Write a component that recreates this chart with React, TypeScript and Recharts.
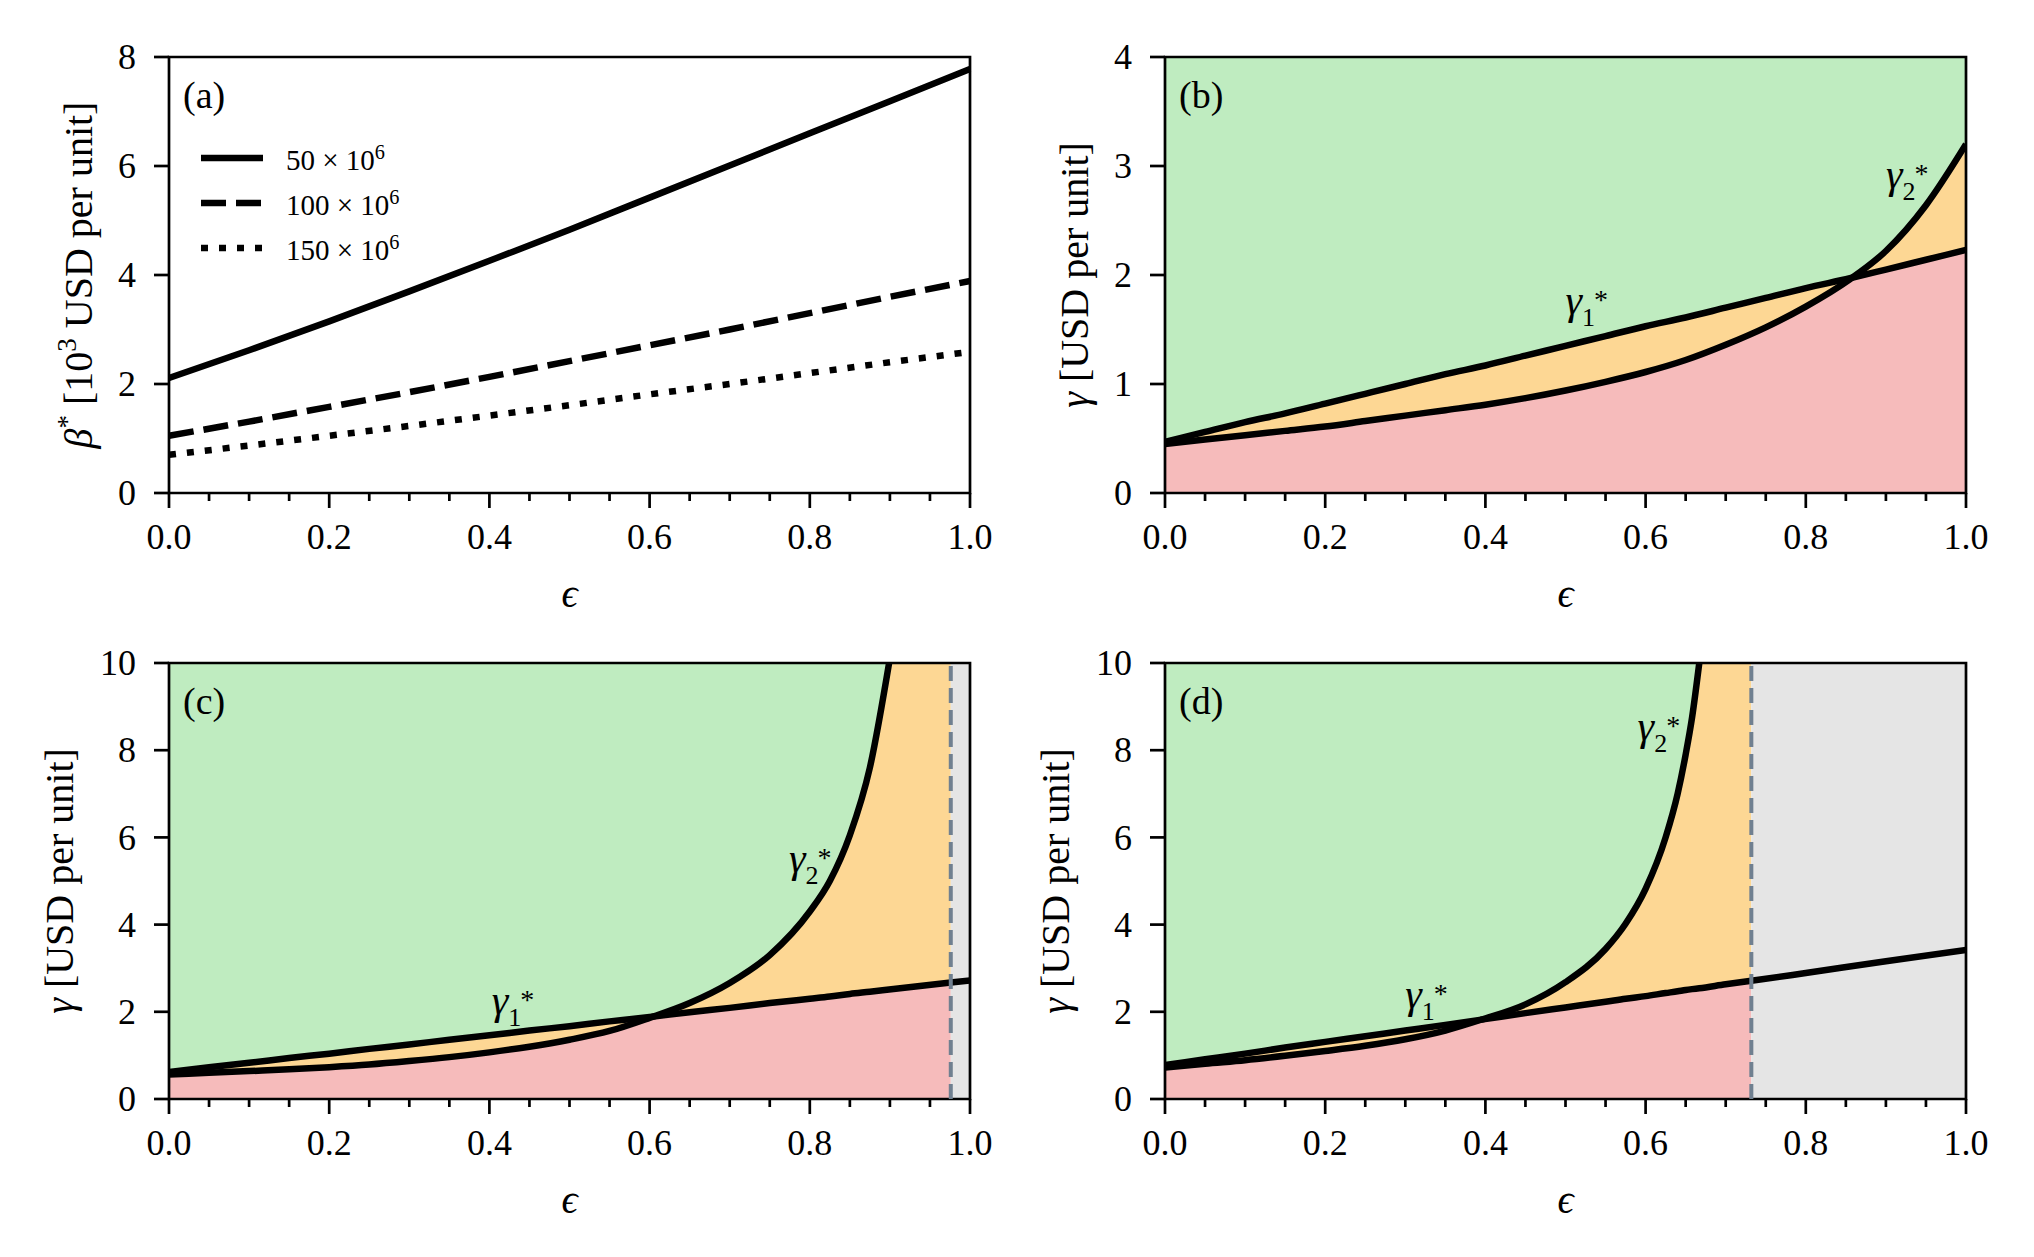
import React from 'react';
import {
  ComposedChart,
  Area,
  Line,
  XAxis,
  YAxis,
  ReferenceArea,
  ReferenceLine,
  ReferenceDot,
  Legend,
} from 'recharts';

const FONT = '"Liberation Serif", "DejaVu Serif", serif';

const GREEN = '#bfecc0';
const ORANGE = '#fdd794';
const RED = '#f6bbbb';
const GREY = '#e5e5e5';
const SLATE = '#708090';

// x axis: minor ticks every 0.05, labelled majors every 0.2
const X_TICKS = [0, 0.05, 0.1, 0.15, 0.2, 0.25, 0.3, 0.35, 0.4, 0.45, 0.5, 0.55, 0.6, 0.65, 0.7, 0.75, 0.8, 0.85, 0.9, 0.95, 1.0];
const X_MAJOR = [0, 0.2, 0.4, 0.6, 0.8, 1.0];

// (a) beta* for three volumes
const EPS_A = [0, 0.1, 0.2, 0.3, 0.4, 0.5, 0.6, 0.7, 0.8, 0.9, 1.0];
const BETA_50 = [2.11, 2.62, 3.15, 3.7, 4.26, 4.83, 5.42, 6.01, 6.6, 7.19, 7.78];
const BETA_100 = [1.05, 1.31, 1.58, 1.85, 2.13, 2.42, 2.71, 3.0, 3.3, 3.6, 3.89];
const BETA_150 = [0.7, 0.87, 1.05, 1.23, 1.42, 1.61, 1.81, 2.0, 2.2, 2.4, 2.59];
const Y_TICKS_A = [0, 2, 4, 6, 8];
const LEGEND_LABELS = ['50', '100', '150'];
const LEGEND_DASH = ['', '25 10', '7 11'];

// (b)
const EPS_B = [0, 0.05, 0.1, 0.15, 0.2, 0.25, 0.3, 0.35, 0.4, 0.45, 0.5, 0.55, 0.6, 0.65, 0.7, 0.75, 0.8, 0.855, 0.9, 0.95, 1.0];
const G1_B = [0.47, 0.56, 0.65, 0.73, 0.82, 0.91, 1.0, 1.09, 1.17, 1.26, 1.35, 1.44, 1.53, 1.61, 1.7, 1.79, 1.88, 1.97, 2.05, 2.14, 2.23];
const G2_B = [0.45, 0.49, 0.53, 0.57, 0.61, 0.66, 0.71, 0.76, 0.81, 0.87, 0.94, 1.02, 1.11, 1.22, 1.36, 1.52, 1.71, 1.96, 2.22, 2.64, 3.2];
const Y_TICKS_B = [0, 1, 2, 3, 4];

// (c)
const EPS_C = [0, 0.05, 0.1, 0.15, 0.2, 0.25, 0.3, 0.35, 0.4, 0.45, 0.5, 0.55, 0.6, 0.65, 0.7, 0.75, 0.8, 0.825, 0.85, 0.875, 0.899, 0.976, 1.0];
const G1_C = [0.62, 0.73, 0.83, 0.94, 1.04, 1.15, 1.25, 1.36, 1.46, 1.57, 1.67, 1.78, 1.88, 1.99, 2.09, 2.2, 2.3, 2.35, 2.41, 2.46, 2.51, 2.67, 2.72];
const G2_C = [0.56, 0.6, 0.64, 0.68, 0.73, 0.79, 0.87, 0.96, 1.07, 1.2, 1.36, 1.56, 1.86, 2.2, 2.66, 3.3, 4.3, 5.0, 6.05, 7.6, 10.0, null, null];
const CUT_C = 0.976;

// (d)
const EPS_D = [0, 0.05, 0.1, 0.15, 0.2, 0.25, 0.3, 0.35, 0.395, 0.45, 0.5, 0.55, 0.575, 0.6, 0.625, 0.64, 0.65, 0.658, 0.667, 0.7, 0.732, 0.8, 0.9, 1.0];
const G1_D = [0.78, 0.91, 1.04, 1.18, 1.31, 1.44, 1.57, 1.7, 1.82, 1.97, 2.1, 2.23, 2.3, 2.36, 2.43, 2.47, 2.5, 2.52, 2.54, 2.63, 2.71, 2.89, 3.16, 3.42];
const G2_D = [0.72, 0.81, 0.89, 0.99, 1.1, 1.22, 1.37, 1.57, 1.82, 2.17, 2.68, 3.44, 4.02, 4.82, 6.0, 7.0, 7.9, 8.75, 10.0, null, null, null, null, null];
const CUT_D = 0.732;
const Y_TICKS_CD = [0, 2, 4, 6, 8, 10];

// gamma* annotation anchors (text start, baseline)
const LABELS_B = [{ e: 0.5, g: 1.64, sub: '1' }, { e: 0.9, g: 2.8, sub: '2' }];
const LABELS_C = [{ e: 0.403, g: 1.95, sub: '1' }, { e: 0.774, g: 5.2, sub: '2' }];
const LABELS_D = [{ e: 0.3, g: 2.09, sub: '1' }, { e: 0.59, g: 8.23, sub: '2' }];

type Row = Record<string, any>;

function regionRows(eps: number[], g1: number[], g2: (number | null)[], top: number, cut: number): Row[] {
  return eps.map((e, i) => {
    const a = g1[i];
    const b = g2[i];
    const inside = e <= cut + 1e-9;
    const lo = b == null ? a : Math.min(a, b);
    const hi = b == null ? null : Math.min(Math.max(a, b), top);
    return {
      eps: e,
      g1: a,
      g2: b,
      orange: inside ? [lo, top] : null,
      red: inside ? [0, lo] : null,
      green: inside && hi != null ? [hi, top] : null,
    };
  });
}

const XTick = (props: any) => {
  const { x, y, payload } = props;
  const v = payload.value;
  const major = X_MAJOR.some((m) => Math.abs(m - v) < 1e-6);
  return (
    <g>
      <line x1={x} x2={x} y1={y} y2={y + (major ? 15 : 8)} stroke="#000" strokeWidth={2.7} />
      {major && (
        <text x={x} y={y + 56} textAnchor="middle" fontFamily={FONT} fontSize={36} fill="#000">
          {v.toFixed(1)}
        </text>
      )}
    </g>
  );
};

const YTick = (props: any) => {
  const { x, y, payload } = props;
  return (
    <g>
      <line x1={x - 15} x2={x} y1={y} y2={y} stroke="#000" strokeWidth={2.7} />
      <text x={x - 33} y={y} dy="0.34em" textAnchor="end" fontFamily={FONT} fontSize={36} fill="#000">
        {payload.value}
      </text>
    </g>
  );
};

const xTitle = (props: any) => {
  const vb = props.viewBox;
  return (
    <text x={vb.x + vb.width / 2} y={vb.y + 114} textAnchor="middle" fontFamily={FONT} fontSize={40} fill="#000">
      <tspan fontStyle="italic">ϵ</tspan>
    </text>
  );
};

const yTitle = (offset: number, kind: 'beta' | 'gamma') => (props: any) => {
  const vb = props.viewBox;
  const x = vb.x + vb.width - offset;
  const y = vb.y + vb.height / 2;
  return (
    <text x={x} y={y} transform={`rotate(-90 ${x} ${y})`} textAnchor="middle" fontFamily={FONT} fontSize={40} fill="#000">
      {kind === 'beta' ? (
        <>
          <tspan fontStyle="italic">β</tspan>
          <tspan fontSize={27} dy={-16}>*</tspan>
          <tspan dy={16}> [10</tspan>
          <tspan fontSize={27} dy={-16}>3</tspan>
          <tspan dy={16}> USD per unit]</tspan>
        </>
      ) : (
        <>
          <tspan fontStyle="italic">γ</tspan>
          <tspan> [USD per unit]</tspan>
        </>
      )}
    </text>
  );
};

const letterShape = (letter: string) => (p: any) => (
  <text x={p.cx + 14} y={p.cy + 51} fontFamily={FONT} fontSize={38} fill="#000">
    ({letter})
  </text>
);

const gammaShape = (sub: string) => (p: any) => (
  <text x={p.cx} y={p.cy} fontFamily={FONT} fontSize={42} fill="#000">
    <tspan fontStyle="italic">γ</tspan>
    <tspan fontSize={26} dy={12}>{sub}</tspan>
    <tspan fontSize={28} dx={-1} dy={-17}>*</tspan>
  </text>
);

const Frame = ({ top }: { top: number }) => (
  <ReferenceArea x1={0} x2={1} y1={0} y2={top} fill="none" stroke="#000" strokeWidth={2.7} ifOverflow="visible" />
);

const LegendBox = () => (
  <div style={{ fontFamily: FONT, fontSize: 29, color: '#000' }}>
    {LEGEND_LABELS.map((lab, i) => (
      <div key={lab} style={{ display: 'flex', alignItems: 'center', height: 45 }}>
        <svg width={62} height={12} style={{ display: 'block' }}>
          <line x1={0} x2={62} y1={6} y2={6} stroke="#000" strokeWidth={6.5} strokeDasharray={LEGEND_DASH[i] || undefined} />
        </svg>
        <span style={{ marginLeft: 23, paddingTop: 4, whiteSpace: 'nowrap' }}>
          {lab} × 10<sup style={{ fontSize: '0.7em', verticalAlign: '0.55em' }}>6</sup>
        </span>
      </div>
    ))}
  </div>
);

const CW = 1017;
const CH = 628;

function PanelA() {
  const rows = EPS_A.map((e, i) => ({ eps: e, s50: BETA_50[i], s100: BETA_100[i], s150: BETA_150[i] }));
  return (
    <ComposedChart width={CW} height={CH} data={rows} margin={{ top: 57, right: 47, bottom: 105, left: 109 }}>
      <XAxis type="number" dataKey="eps" domain={[0, 1]} ticks={X_TICKS} interval={0} tick={XTick}
        tickLine={false} axisLine={false} tickSize={0} tickMargin={0} height={30} label={xTitle} />
      <YAxis type="number" domain={[0, 8]} ticks={Y_TICKS_A} interval={0} tick={YTick}
        tickLine={false} axisLine={false} tickSize={0} tickMargin={0} width={60} allowDataOverflow label={yTitle(77, 'beta')} />
      <Line type="linear" dataKey="s50" name="50" stroke="#000" strokeWidth={6.5} dot={false} activeDot={false} isAnimationActive={false} />
      <Line type="linear" dataKey="s100" name="100" stroke="#000" strokeWidth={6.5} strokeDasharray={LEGEND_DASH[1]} dot={false} activeDot={false} isAnimationActive={false} />
      <Line type="linear" dataKey="s150" name="150" stroke="#000" strokeWidth={6.5} strokeDasharray={LEGEND_DASH[2]} dot={false} activeDot={false} isAnimationActive={false} />
      <Frame top={8} />
      <ReferenceDot x={0} y={8} r={0} ifOverflow="visible" shape={letterShape('a')} />
      <Legend layout="vertical" align="center" verticalAlign="middle" content={LegendBox}
        wrapperStyle={{ position: 'absolute', left: 201, top: 135, width: 'auto', height: 'auto' }} />
    </ComposedChart>
  );
}

interface RegionProps {
  rows: Row[];
  top: number;
  yTicks: number[];
  letter: string;
  cut: number | null;
  labels: { e: number; g: number; sub: string }[];
  margin: { top: number; right: number; bottom: number; left: number };
  yOffset: number;
}

function RegionPanel({ rows, top, yTicks, letter, cut, labels, margin, yOffset }: RegionProps) {
  return (
    <ComposedChart width={CW} height={CH} data={rows} margin={margin}>
      <XAxis type="number" dataKey="eps" domain={[0, 1]} ticks={X_TICKS} interval={0} tick={XTick}
        tickLine={false} axisLine={false} tickSize={0} tickMargin={0} height={30} allowDataOverflow label={xTitle} />
      <YAxis type="number" domain={[0, top]} ticks={yTicks} interval={0} tick={YTick}
        tickLine={false} axisLine={false} tickSize={0} tickMargin={0} width={60} allowDataOverflow label={yTitle(yOffset, 'gamma')} />
      <Area type="monotone" dataKey="orange" stroke="none" fill={ORANGE} fillOpacity={1} dot={false} activeDot={false} isAnimationActive={false} />
      <Area type="monotone" dataKey="red" stroke="none" fill={RED} fillOpacity={1} dot={false} activeDot={false} isAnimationActive={false} />
      <Area type="monotone" dataKey="green" stroke="none" fill={GREEN} fillOpacity={1} dot={false} activeDot={false} isAnimationActive={false} />
      {cut != null && <ReferenceArea x1={cut} x2={1} y1={0} y2={top} fill={GREY} fillOpacity={1} stroke="none" />}
      <Line type="monotone" dataKey="g1" stroke="#000" strokeWidth={6.5} dot={false} activeDot={false} isAnimationActive={false} />
      <Line type="monotone" dataKey="g2" stroke="#000" strokeWidth={6.5} dot={false} activeDot={false} isAnimationActive={false} />
      {cut != null && <ReferenceLine x={cut} stroke={SLATE} strokeWidth={4} strokeDasharray="15 7" />}
      <Frame top={top} />
      <ReferenceDot x={0} y={top} r={0} ifOverflow="visible" shape={letterShape(letter)} />
      {labels.map((l) => (
        <ReferenceDot key={l.sub} x={l.e} y={l.g} r={0} ifOverflow="visible" shape={gammaShape(l.sub)} />
      ))}
    </ComposedChart>
  );
}

export default function App() {
  const rowsB = regionRows(EPS_B, G1_B, G2_B, 4, 1.0);
  const rowsC = regionRows(EPS_C, G1_C, G2_C, 10, CUT_C);
  const rowsD = regionRows(EPS_D, G1_D, G2_D, 10, CUT_D);
  const cell = (left: number, top: number): React.CSSProperties => ({ position: 'absolute', left, top, width: CW, height: CH });
  return (
    <div style={{ position: 'absolute', left: 0, top: 0, width: 2034, height: 1257, background: '#fff', overflow: 'hidden' }}>
      <div style={cell(0, 0)}>
        <PanelA />
      </div>
      <div style={cell(1017, 0)}>
        <RegionPanel rows={rowsB} top={4} yTicks={Y_TICKS_B} letter="b" cut={null} labels={LABELS_B}
          margin={{ top: 57, right: 68, bottom: 105, left: 88 }} yOffset={77} />
      </div>
      <div style={cell(0, 628)}>
        <RegionPanel rows={rowsC} top={10} yTicks={Y_TICKS_CD} letter="c" cut={CUT_C} labels={LABELS_C}
          margin={{ top: 35, right: 47, bottom: 127, left: 109 }} yOffset={96} />
      </div>
      <div style={cell(1017, 628)}>
        <RegionPanel rows={rowsD} top={10} yTicks={Y_TICKS_CD} letter="d" cut={CUT_D} labels={LABELS_D}
          margin={{ top: 35, right: 68, bottom: 127, left: 88 }} yOffset={96} />
      </div>
    </div>
  );
}
